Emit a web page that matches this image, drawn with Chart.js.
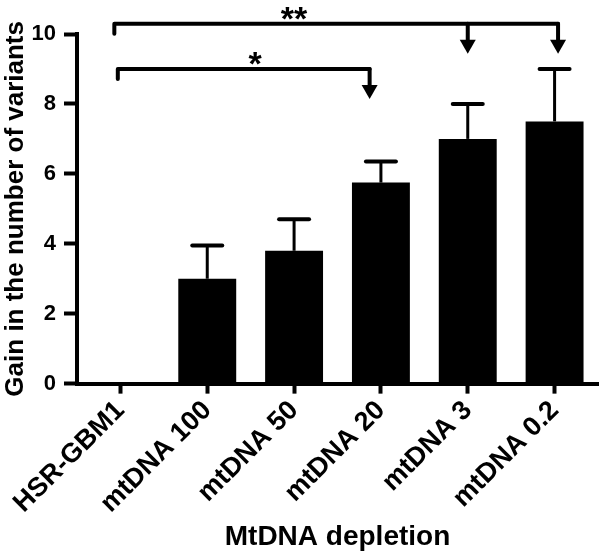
<!DOCTYPE html>
<html>
<head>
<meta charset="utf-8">
<script src="https://cdn.jsdelivr.net/npm/chart.js@4"></script>
<style>
  html, body { margin: 0; padding: 0; background: #fff; }
  #wrap { width: 600px; height: 556px; }
</style>
</head>
<body>
<div id="wrap"><canvas id="myChart" width="600" height="556"></canvas></div>
<script>
// ---------------- data
var categories = ['HSR-GBM1', 'mtDNA 100', 'mtDNA 50', 'mtDNA 20', 'mtDNA 3', 'mtDNA 0.2'];
var gain = [0, 3.0, 3.8, 5.75, 7.0, 7.5];
var gainUpper = [0, 3.95, 4.7, 6.35, 8.0, 9.0];   // mean + SD
var yTicks = [0, 2, 4, 6, 8, 10];
// significance brackets: start category, arrow targets, bracket level, label
var brackets = [
    {from: -0.03, to: [2.87], level: 9.0, label: '*'},
    {from: -0.07, to: [4.0, 5.04], level: 10.29, label: '**'}
];

var FONT = 'Liberation Sans, Arial, Helvetica, sans-serif';

// ----------------- error bars (upper only)
var errorBars = {
    id: 'errorBars',
    afterDatasetsDraw: function (chart){
        var ctx = chart.ctx;
        var meta = chart.getDatasetMeta(0);
        var ys = chart.scales.y;
        ctx.save();
        ctx.strokeStyle = '#000';
        for(var i = 0; i < gain.length; i++){
            if(gainUpper[i] <= gain[i]) continue;
            var x = meta.data[i].x;
            var y0 = ys.getPixelForValue(gain[i]);
            var y1 = ys.getPixelForValue(gainUpper[i]);
            ctx.lineWidth = 3;
            ctx.lineCap = 'butt';
            ctx.beginPath(); ctx.moveTo(x, y0); ctx.lineTo(x, y1); ctx.stroke();
            ctx.lineWidth = 4;
            ctx.lineCap = 'round';
            ctx.beginPath(); ctx.moveTo(x - 15, y1); ctx.lineTo(x + 15, y1); ctx.stroke();
        }
        ctx.restore();
    }
};

// ----------------- significance brackets with arrows
var sigBrackets = {
    id: 'sigBrackets',
    afterDraw: function (chart){
        var ctx = chart.ctx;
        var xs = chart.scales.x, ys = chart.scales.y;
        ctx.save();
        ctx.strokeStyle = '#000';
        ctx.fillStyle = '#000';
        ctx.lineWidth = 4;
        ctx.lineCap = 'round';
        ctx.lineJoin = 'round';
        brackets.forEach(function (b){
            var yl = ys.getPixelForValue(b.level);
            var xa = xs.getPixelForValue(b.from);
            var last = b.to[b.to.length - 1];
            var xb = xs.getPixelForValue(last);
            ctx.beginPath();
            ctx.moveTo(xa, yl + 10);
            ctx.lineTo(xa, yl);
            ctx.lineTo(xb, yl);
            ctx.stroke();
            b.to.forEach(function (t){
                var xt = xs.getPixelForValue(t);
                var tip = yl + 30;
                ctx.beginPath();
                ctx.moveTo(xt, yl);
                ctx.lineTo(xt, tip - 12);
                ctx.stroke();
                ctx.beginPath();
                ctx.moveTo(xt - 8, tip - 14);
                ctx.lineTo(xt + 8, tip - 14);
                ctx.lineTo(xt, tip);
                ctx.closePath();
                ctx.fill();
            });
            ctx.font = 'bold 34px ' + FONT;
            ctx.textAlign = 'center';
            ctx.textBaseline = 'alphabetic';
            var xm = b.label === '**' ? xs.getPixelForValue(2.0) : xs.getPixelForValue(1.55);
            ctx.fillText(b.label, xm, yl + 6);
        });
        ctx.restore();
    }
};

var ctx = document.getElementById('myChart');
var myChart = new Chart(ctx, {
    type: 'bar',
    data: {
        labels: categories,
        datasets: [{
            data: gain,
            backgroundColor: '#000',
            borderWidth: 0,
            barPercentage: 0.667,
            categoryPercentage: 1.0
        }]
    },
    options: {
        responsive: false,
        animation: false,
        layout: {padding: {top: 34, right: 2, left: 0, bottom: 2}},
        plugins: {legend: {display: false}, tooltip: {enabled: false}},
        scales: {
            x: {
                grid: {display: true, offset: false, drawOnChartArea: false,
                       tickLength: 10, tickWidth: 4, tickColor: '#000'},
                border: {display: true, width: 4, color: '#000'},
                ticks: {color: '#000', font: {family: FONT, size: 27, weight: 'bold'},
                        maxRotation: 45, minRotation: 45, padding: 1},
                title: {display: true, text: 'MtDNA depletion', color: '#000',
                        font: {family: FONT, size: 28, weight: 'bold'}, padding: {top: 0, bottom: 0}}
            },
            y: {
                min: 0, max: 10,
                afterBuildTicks: function (axis){
                    axis.ticks = yTicks.map(function (v){ return {value: v}; });
                },
                afterFit: function (axis){ axis.width = 77; },
                grid: {display: true, drawOnChartArea: false,
                       tickLength: 13, tickWidth: 4, tickColor: '#000'},
                border: {display: true, width: 4, color: '#000'},
                ticks: {color: '#000', font: {family: FONT, size: 22, weight: 'bold'}, padding: 8},
                title: {display: true, text: 'Gain in the number of variants', color: '#000',
                        font: {family: FONT, size: 26, weight: 'bold'}, padding: {top: 0, bottom: 2}}
            }
        }
    },
    plugins: [errorBars, sigBrackets]
});
</script>
</body>
</html>
